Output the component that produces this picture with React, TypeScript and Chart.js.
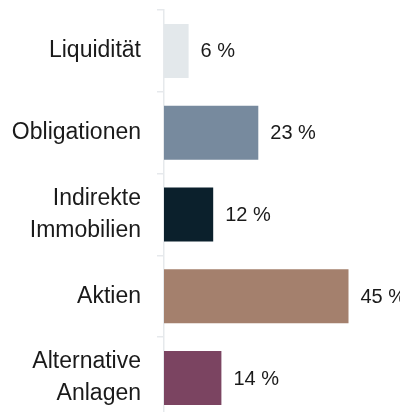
import React, { useEffect, useRef } from "react";
import { Chart, registerables } from "chart.js";

Chart.register(...registerables);

const categories: (string | string[])[] = [
  "Liquidität",
  "Obligationen",
  ["Indirekte", "Immobilien"],
  "Aktien",
  ["Alternative", "Anlagen"],
];
const values: number[] = [6, 23, 12, 45, 14];
const valueLabels: string[] = ["6 %", "23 %", "12 %", "45 %", "14 %"];
const barColors: string[] = ["#e3e8eb", "#778a9e", "#0b202c", "#a4806d", "#7b4461"];

const FONT = "'Liberation Sans', Arial, sans-serif";

const valueLabelPlugin = {
  id: "valueLabels",
  afterDatasetsDraw(chart: any) {
    const ctx = chart.ctx;
    const meta = chart.getDatasetMeta(0);
    ctx.save();
    ctx.font = `20px ${FONT}`;
    ctx.fillStyle = "#1a1a1a";
    ctx.textAlign = "left";
    ctx.textBaseline = "middle";
    meta.data.forEach((bar: any, i: number) => {
      ctx.fillText(valueLabels[i], bar.x + 12, bar.y + 1);
    });
    ctx.restore();
  },
};

export default function App() {
  const ref = useRef<HTMLCanvasElement | null>(null);
  useEffect(() => {
    if (!ref.current) return;
    document.documentElement.style.overflow = "hidden";
    document.body.style.overflow = "hidden";
    const chart = new Chart(ref.current, {
      type: "bar",
      data: {
        labels: categories,
        datasets: [
          {
            data: values,
            backgroundColor: barColors,
            borderWidth: 0,
            categoryPercentage: 1,
            barPercentage: 0.66,
          },
        ],
      },
      options: {
        indexAxis: "y",
        animation: false,
        responsive: false,
        layout: { padding: { top: 2, right: 39, bottom: 1, left: 0 } },
        plugins: { legend: { display: false }, tooltip: { enabled: false } },
        scales: {
          x: { display: false, min: 0, max: 50 },
          y: {
            afterFit: (scale: any) => {
              scale.width = 156;
              scale.paddingTop = 0;
              scale.paddingBottom = 0;
            },
            border: { display: true, color: "#e6e9ec", width: 1.5 },
            grid: {
              display: true,
              drawOnChartArea: false,
              drawTicks: true,
              tickLength: 7,
              color: "#e6e9ec",
              lineWidth: 1.5,
              offset: true,
            },
            ticks: {
              color: "#1a1a1a",
              padding: 16,
              font: { family: FONT, size: 23, lineHeight: 1.39 },
            },
          },
        },
      },
      plugins: [valueLabelPlugin],
    });
    return () => chart.destroy();
  }, []);
  return (
    <div style={{ width: 400, height: 412 }}>
      <canvas ref={ref} width={400} height={412} style={{ display: "block" }} />
    </div>
  );
}
